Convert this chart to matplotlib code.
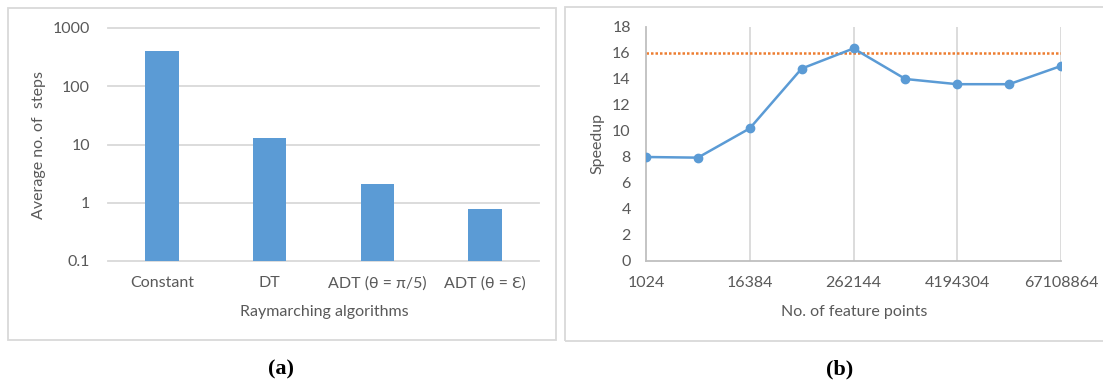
import matplotlib as mpl
mpl.use('Agg')
import matplotlib.pyplot as plt
import numpy as np
from matplotlib.patches import Rectangle

# (a) average raymarching steps per algorithm
algorithms = ['Constant', 'DT', 'ADT (θ = π/5)', 'ADT (θ = Ɛ)']
avg_steps = [395, 12.7, 2.1, 0.78]
step_ticks = [0.1, 1, 10, 100, 1000]
step_tick_labels = ['0.1', '1', '10', '100', '1000']

# (b) speedup against number of feature points
feature_points = [1024, 4096, 16384, 65536, 262144, 1048576, 4194304, 16777216, 67108864]
speedup = [8.0, 7.95, 10.2, 14.8, 16.35, 14.0, 13.6, 13.6, 15.0]
target_speedup = 16
speedup_ticks = list(range(0, 20, 2))

BLUE = '#5B9BD5'
ORANGE = '#ED7D31'
TEXT = '#595959'
GRID = '#D9D9D9'
AXIS = '#BFBFBF'

plt.rcParams['font.family'] = ['Lato', 'DejaVu Sans']
plt.rcParams['font.size'] = 11.5

W, H = 1103, 383
fig = plt.figure(figsize=(W / 100, H / 100), dpi=100)


def px(x, y):
    # pixel (from top-left) to figure fraction
    return x / W, 1 - y / H


# panel frames
fig.patches.append(Rectangle(px(8, 340), 548 / W, 332 / H, transform=fig.transFigure,
                             fill=False, edgecolor=GRID, lw=1.3))
fig.patches.append(Rectangle(px(565, 341), 560 / W, 334 / H, transform=fig.transFigure,
                             fill=False, edgecolor=GRID, lw=1.3))

# ---- (a) bar chart ----
ax1 = fig.add_axes([108 / W, (H - 261) / H, 431 / W, 233 / H])
pos = np.arange(len(algorithms))
ax1.bar(pos, avg_steps, width=0.31, color=BLUE, zorder=3)
ax1.set_yscale('log')
ax1.set_ylim(0.1, 1000)
ax1.set_xlim(-0.5, len(algorithms) - 0.5)
ax1.set_yticks(step_ticks)
ax1.set_yticklabels(step_tick_labels)
ax1.minorticks_off()
ax1.set_xticks(pos)
ax1.set_xticklabels(algorithms)
ax1.tick_params(axis='both', length=0, colors=TEXT)
ax1.tick_params(axis='y', pad=13)
ax1.tick_params(axis='x', pad=11)
for t in step_ticks:
    ax1.axhline(t, color=GRID, lw=1.3, zorder=1, clip_on=False)
for s in ax1.spines.values():
    s.set_visible(False)
fig.text(*px(324, 312), 'Raymarching algorithms', color=TEXT, ha='center', va='center')
fig.text(*px(39, 145), 'Average no. of  steps', color=TEXT, ha='center', va='center',
         rotation=90)
fig.text(*px(281, 369), '(a)', family='Liberation Serif', weight='bold', fontsize=16,
         ha='center', va='center', color='black')

# ---- (b) line chart ----
ax2 = fig.add_axes([646 / W, (H - 261) / H, 415 / W, 234 / H])
xs = np.arange(len(feature_points))
for x in xs[::2][1:]:
    ax2.axvline(x, color=GRID, lw=1.3, zorder=1)
ax2.plot(xs, [target_speedup] * len(xs), color=ORANGE, lw=1.8,
         linestyle=(0, (1, 0.8)), zorder=2)
ax2.plot(xs, speedup, color=BLUE, lw=1.8, marker='o', markersize=6, zorder=3)
ax2.set_xlim(0, len(xs) - 1)
ax2.set_ylim(0, 18)
ax2.set_yticks(speedup_ticks)
ax2.set_xticks(xs[::2])
ax2.set_xticklabels([str(v) for v in feature_points[::2]])
ax2.tick_params(axis='both', length=0, colors=TEXT)
ax2.tick_params(axis='y', pad=11)
ax2.tick_params(axis='x', pad=11)
for side in ['top', 'right']:
    ax2.spines[side].set_visible(False)
for side in ['left', 'bottom']:
    ax2.spines[side].set_color(AXIS)
    ax2.spines[side].set_linewidth(1.3)
fig.text(*px(854, 312), 'No. of feature points', color=TEXT, ha='center', va='center')
fig.text(*px(597, 143), 'Speedup', color=TEXT, ha='center', va='center', rotation=90)
fig.text(*px(840, 369), '(b)', family='Liberation Serif', weight='bold', fontsize=16,
         ha='center', va='center', color='black')

fig.savefig('out.png', dpi=100, facecolor='white')
